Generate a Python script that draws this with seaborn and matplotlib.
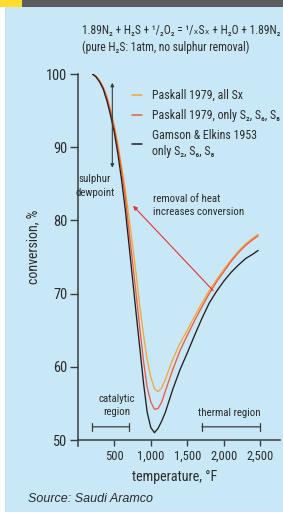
import numpy as np
import pandas as pd
import matplotlib
matplotlib.use("Agg")
import matplotlib.pyplot as plt
from matplotlib import font_manager
from matplotlib.patches import Rectangle
import seaborn as sns

# ---------------- data ----------------
temp_f = [200, 250, 300, 350, 400, 450, 500, 550, 600, 650, 700, 750, 800, 850,
          900, 950, 1000, 1050, 1100, 1150, 1200, 1300, 1400, 1500, 1600, 1700,
          1800, 1900, 2000, 2100, 2200, 2300, 2400, 2470]
paskall_all = [100.0, 99.7, 99.1, 98.2, 96.9, 95.1, 93.0, 90.4, 87.4, 84.2, 80.6,
               76.6, 72.6, 68.2, 64.4, 61.0, 58.6, 57.0, 56.6, 57.1, 58.3, 61.0,
               63.2, 65.0, 66.9, 68.7, 70.4, 71.9, 73.3, 74.6, 75.8, 76.8, 77.6, 78.1]
paskall_s268 = [100.0, 99.7, 99.0, 98.1, 96.7, 94.8, 92.6, 89.9, 86.7, 83.2, 78.7,
                74.3, 69.8, 65.2, 60.8, 57.2, 55.2, 54.2, 54.3, 55.2, 56.7, 59.6,
                62.2, 64.3, 66.3, 68.2, 70.0, 71.6, 73.0, 74.4, 75.6, 76.6, 77.4, 77.9]
gamson_s268 = [100.0, 99.6, 98.9, 97.9, 96.3, 94.3, 92.0, 89.0, 85.5, 81.5, 76.8,
               72.0, 67.2, 62.5, 57.8, 53.8, 51.7, 51.0, 51.6, 52.6, 53.8, 56.9,
               59.6, 61.9, 64.3, 66.6, 68.7, 70.3, 71.7, 72.9, 73.9, 74.8, 75.4, 75.9]
series_labels = ["Paskall 1979, all Sx",
                 "Paskall 1979, only S₂, S₆, S₈",
                 "Gamson & Elkins 1953\nonly S₂, S₆, S₈"]
series_colors = ["#f7a734", "#f05a3c", "#231f20"]
y_ticks = [50, 60, 70, 80, 90, 100]
x_ticks = [500, 1000, 1500, 2000, 2500]
x_ticklabels = ["500", "1,000", "1,500", "2,000", "2,500"]
title_lines = ["1.89N₂ + H₂S + ¹/₂O₂ = ¹/ₓSₓ + H₂O + 1.89N₂",
               "(pure H₂S: 1atm, no sulphur removal)"]

# ---------------- fonts ----------------
entries = font_manager.fontManager.ttflist
names = {f.name for f in entries}
cond_stretches = {"condensed", "extra-condensed", "semi-condensed", "ultra-condensed",
                  300, 200, 400, 100}
narrow, stretch, k = "DejaVu Sans", "condensed", 0.85
if "Liberation Sans Narrow" in names:
    narrow, stretch, k = "Liberation Sans Narrow", "normal", 1.0
elif "Roboto Condensed" in names:
    narrow, stretch, k = "Roboto Condensed", "normal", 1.0
elif any(f.name == "Noto Sans" and f.stretch in cond_stretches for f in entries):
    narrow, stretch, k = "Noto Sans", "condensed", 1.0
else:
    others = sorted(n for n in names if ("Condensed" in n or "Narrow" in n)
                    and "Mono" not in n and "Serif" not in n)
    if others:
        narrow, stretch, k = others[0], "normal", 1.0

sns.set_theme(style="white")
plt.rcParams["font.family"] = [narrow, "DejaVu Sans"]
plt.rcParams["font.stretch"] = stretch

TXT = "#2b2b2b"
BG = "#c8e8f7"

W, H = 283, 513
fig = plt.figure(figsize=(W / 100, H / 100), dpi=100, facecolor="white")

# background panels
fig.patches.append(Rectangle((5 / W, 1 / H), 1 - 5 / W, 1 - 8.3 / H, transform=fig.transFigure,
                             facecolor=BG, edgecolor="none", zorder=-10))
fig.patches.append(Rectangle((0, 1 - 7.3 / H), 1, 7.3 / H, transform=fig.transFigure,
                             facecolor="#5b5d60", edgecolor="none", zorder=-10))
fig.patches.append(Rectangle((0, 1 - 7.3 / H), 22 / W, 7.3 / H, transform=fig.transFigure,
                             facecolor="#ffdc2e", edgecolor="none", zorder=-9))

# axes
ax_left, ax_right = 77.8, 280.0
px_y50, px_y100 = 440.0, 74.0
ymin = 49.2
px_per_unit = (px_y50 - px_y100) / 50.0
ax_bottom_px = px_y50 + (50 - ymin) * px_per_unit
ax = fig.add_axes([ax_left / W, 1 - ax_bottom_px / H, (ax_right - ax_left) / W,
                   (ax_bottom_px - px_y100) / H])
ax.set_facecolor("none")
ax.set_zorder(1)

df = pd.concat([
    pd.DataFrame({"temp": temp_f, "conv": vals, "series": lab})
    for vals, lab in zip([paskall_all, paskall_s268, gamson_s268], series_labels)
])
sns.lineplot(data=df, x="temp", y="conv", hue="series", hue_order=series_labels,
             palette=dict(zip(series_labels, series_colors)), sort=False,
             linewidth=0.95, ax=ax, legend=True)

xmax = (ax_right - ax_left) / 0.073
ax.set_xlim(0, xmax)
ax.set_ylim(ymin, 100)
ax.spines["bottom"].set_position(("data", 50))
for s in ["top", "right"]:
    ax.spines[s].set_visible(False)
for s in ["left", "bottom"]:
    ax.spines[s].set_color("#3c3c3c")
    ax.spines[s].set_linewidth(1.1)
ax.set_yticks(y_ticks)
ax.set_xticks(x_ticks)
ax.set_xticklabels(x_ticklabels)
ax.tick_params(axis="y", direction="out", length=6, width=1.0, color="#3c3c3c",
               labelsize=10.4 * k, labelcolor=TXT, pad=1.5, left=True)
ax.tick_params(axis="x", direction="out", length=4, width=1.0, color="#3c3c3c",
               labelsize=9.0 * k, labelcolor=TXT, pad=3, bottom=True)
ax.set_xlabel("")
ax.set_ylabel("")

fs_leg = 8.6 * k
fs = 7.8 * k
leg = ax.legend(loc="upper left", bbox_to_anchor=(132 / W, 1 - 89 / H),
                bbox_transform=fig.transFigure, frameon=False, fontsize=fs_leg,
                handlelength=0.8, handletextpad=0.9, labelspacing=0.6,
                borderpad=0, borderaxespad=0)
for t in leg.get_texts():
    t.set_color(TXT)
    t.set_linespacing(1.25)
for h in leg.get_lines():
    h.set_linewidth(1.1)

# annotations
ax.annotate("", xy=(473, 98.8), xytext=(473, 87.2),
            arrowprops=dict(arrowstyle="<|-|>", color="#3c3c3c", lw=0.8,
                            mutation_scale=5, shrinkA=0, shrinkB=0))
ax.text(236, 84.7, "sulphur\ndewpoint", ha="center", va="center", fontsize=fs,
        color=TXT, linespacing=1.4)
ax.annotate("", xy=(757, 82.0), xytext=(1855, 70.4),
            arrowprops=dict(arrowstyle="-|>", color="#e8332e", lw=0.8,
                            mutation_scale=6, shrinkA=0, shrinkB=0))
ax.text(1032, 82.0, "removal of heat\nincreases conversion", ha="left", va="center",
        fontsize=fs, color=TXT, linespacing=1.4)
ax.text(538, 54.7, "catalytic\nregion", ha="center", va="center", fontsize=fs,
        color=TXT, linespacing=1.4)
ax.annotate("", xy=(200, 51.8), xytext=(700, 51.8),
            arrowprops=dict(arrowstyle="|-|,widthA=0.25,widthB=0.25", color="#3c3c3c",
                            lw=0.9, shrinkA=0, shrinkB=0))
ax.text(2071, 53.7, "thermal region", ha="center", va="center", fontsize=fs, color=TXT)
ax.annotate("", xy=(1700, 51.8), xytext=(2500, 51.8),
            arrowprops=dict(arrowstyle="|-|,widthA=0.25,widthB=0.25", color="#3c3c3c",
                            lw=0.9, shrinkA=0, shrinkB=0))

# titles and labels
fig.text(82 / W, 1 - 31 / H, title_lines[0], ha="left", va="center",
         fontsize=8.3 * k, color=TXT)
fig.text(82 / W, 1 - 47 / H, title_lines[1], ha="left", va="center",
         fontsize=8.3 * k, color=TXT)
fig.text(33 / W, 1 - 247 / H, "conversion, %", rotation=90, ha="center", va="center",
         fontsize=10.0 * k, color=TXT)
fig.text(175 / W, 1 - 477 / H, "temperature, °F", ha="center", va="center",
         fontsize=10.2 * k, color=TXT)
fig.text(28 / W, 1 - 499 / H, "Source: Saudi Aramco", ha="left", va="center",
         fontsize=9.0, color=TXT, style="italic", stretch="normal",
         family=["Liberation Sans", "DejaVu Sans"])

fig.savefig("out.png", dpi=100, facecolor=fig.get_facecolor())
